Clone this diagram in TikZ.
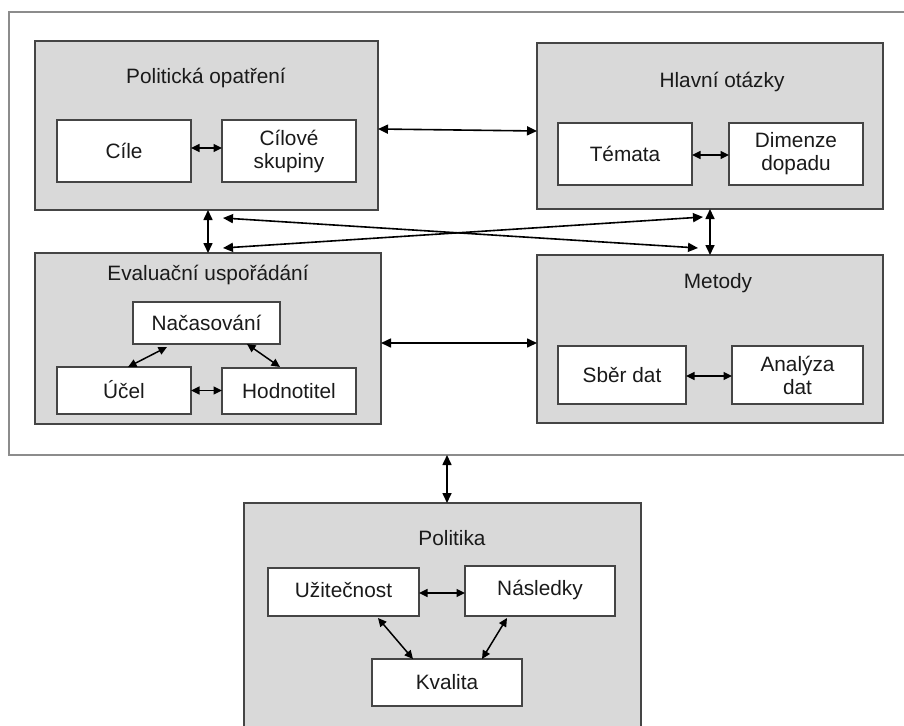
\documentclass[tikz,border=0pt]{standalone}
\usepackage{fontspec}
\setmainfont{Liberation Sans}
\usetikzlibrary{arrows.meta}
\definecolor{grpfill}{HTML}{D9D9D9}
\definecolor{grpline}{HTML}{454545}
\definecolor{frameline}{HTML}{8C8C8C}
\definecolor{txt}{HTML}{1A1A1A}
\tikzset{
  base/.style={inner sep=0pt, outer sep=0pt, text=txt, font=\fontsize{20.8}{23}\selectfont, align=center},
  grp/.style={base, draw=grpline, fill=grpfill, line width=1.4pt},
  item/.style={base, draw=grpline, fill=white, line width=1.2pt},
  ttl/.style={base},
  link/.style={line width=1.6pt, {Triangle[length=10pt,width=9pt]}-{Triangle[length=10pt,width=9pt]}},
  slink/.style={line width=1.5pt, {Triangle[length=8.5pt,width=8pt]}-{Triangle[length=8.5pt,width=8pt]}},
}
\begin{document}
\begin{tikzpicture}[x=1pt, y=-1pt]
\path[use as bounding box, clip] (0,0) rectangle (904,725);
\fill[white] (0,0) rectangle (904,725);

% outer frame around the four upper groups
\node[base, draw=frameline, line width=1.5pt, minimum width=916pt, minimum height=443pt] (frame) at (467,233.5) {};

% groups
\node[grp, minimum width=343pt, minimum height=169pt] (pol) at (206.5,125.5) {};
\node[grp, minimum width=346pt, minimum height=166pt] (hla) at (710,126) {};
\node[grp, minimum width=346pt, minimum height=171pt] (eva) at (208,338.5) {};
\node[grp, minimum width=346pt, minimum height=168pt] (met) at (710,339) {};
\node[grp, minimum width=397pt, minimum height=257pt] (pok) at (442.5,631.5) {};

% group titles
\node[ttl] (polt) at (206,78) {Politická opatření};
\node[ttl] (hlat) at (722,82) {Hlavní otázky};
\node[ttl] (evat) at (208,275) {Evaluační uspořádání};
\node[ttl] (mett) at (718,283) {Metody};
\node[ttl] (pokt) at (452,538) {Politika};

% items
\node[item, minimum width=134pt, minimum height=62pt] (cile) at (124,151) {Cíle};
\node[item, minimum width=134pt, minimum height=62pt] (cils) at (289,151) {Cílové\\skupiny};
\node[item, minimum width=134pt, minimum height=62pt] (tem) at (625,154) {Témata};
\node[item, minimum width=134pt, minimum height=62pt] (dim) at (796,154) {Dimenze\\dopadu};
\node[item, minimum width=147pt, minimum height=42pt] (nac) at (206.5,323) {Načasování};
\node[item, minimum width=134pt, minimum height=47pt] (ucel) at (124,390.5) {\raisebox{2pt}{Účel}};
\node[item, minimum width=134pt, minimum height=46pt] (hod) at (289,391) {Hodnotitel};
\node[item, minimum width=128pt, minimum height=58pt] (sber) at (622,375) {Sběr dat};
\node[item, minimum width=131pt, minimum height=58pt] (ana) at (797.5,375) {Analýza\\dat};
\node[item, minimum width=151pt, minimum height=48pt] (uzi) at (343.5,592) {\raisebox{4pt}{Užitečnost}};
\node[item, minimum width=150pt, minimum height=50pt] (nas) at (540,591) {\raisebox{6pt}{Následky}};
\node[item, minimum width=150pt, minimum height=47pt] (kva) at (447,682.5) {\raisebox{2pt}{Kvalita}};

% links between groups
\draw[link] ([yshift=-3.5pt]pol.east) -- ([yshift=-5pt]hla.west);
\draw[link] ([xshift=1.5pt]pol.south) -- (eva.north);
\draw[link] (hla.south) -- (met.north);
\draw[link] ([xshift=16.5pt,yshift=-8pt]pol.south) -- ([xshift=-12pt,yshift=7pt]met.north);
\draw[link] ([xshift=-7pt,yshift=-8pt]hla.south) -- ([xshift=15pt,yshift=5pt]eva.north);
\draw[link] ([yshift=-4.5pt]eva.east) -- ([yshift=-4pt]met.west);
\draw[link] ([xshift=-20pt]frame.south) -- ([xshift=4.5pt]pok.north);

% links inside groups
\draw[slink] ([yshift=3pt]cile.east) -- ([yshift=3pt]cils.west);
\draw[slink] ([yshift=-1pt]tem.east) -- ([yshift=-1pt]dim.west);
\draw[slink] ([xshift=-39.5pt,yshift=-3pt]nac.south) -- ([xshift=4pt]ucel.north);
\draw[slink] ([xshift=40.5pt]nac.south) -- ([xshift=-9pt,yshift=1pt]hod.north);
\draw[slink] (ucel.east) -- ([yshift=0.5pt]hod.west);
\draw[slink] ([yshift=-1pt]sber.east) -- ([yshift=-1pt]ana.west);
\draw[slink] ([yshift=-1pt]uzi.east) -- ([yshift=-2pt]nas.west);
\draw[slink] ([xshift=34.5pt,yshift=-2pt]uzi.south) -- ([xshift=-34pt]kva.north);
\draw[slink] ([xshift=-33pt,yshift=-2pt]nas.south) -- ([xshift=35pt]kva.north);
\end{tikzpicture}
\end{document}
